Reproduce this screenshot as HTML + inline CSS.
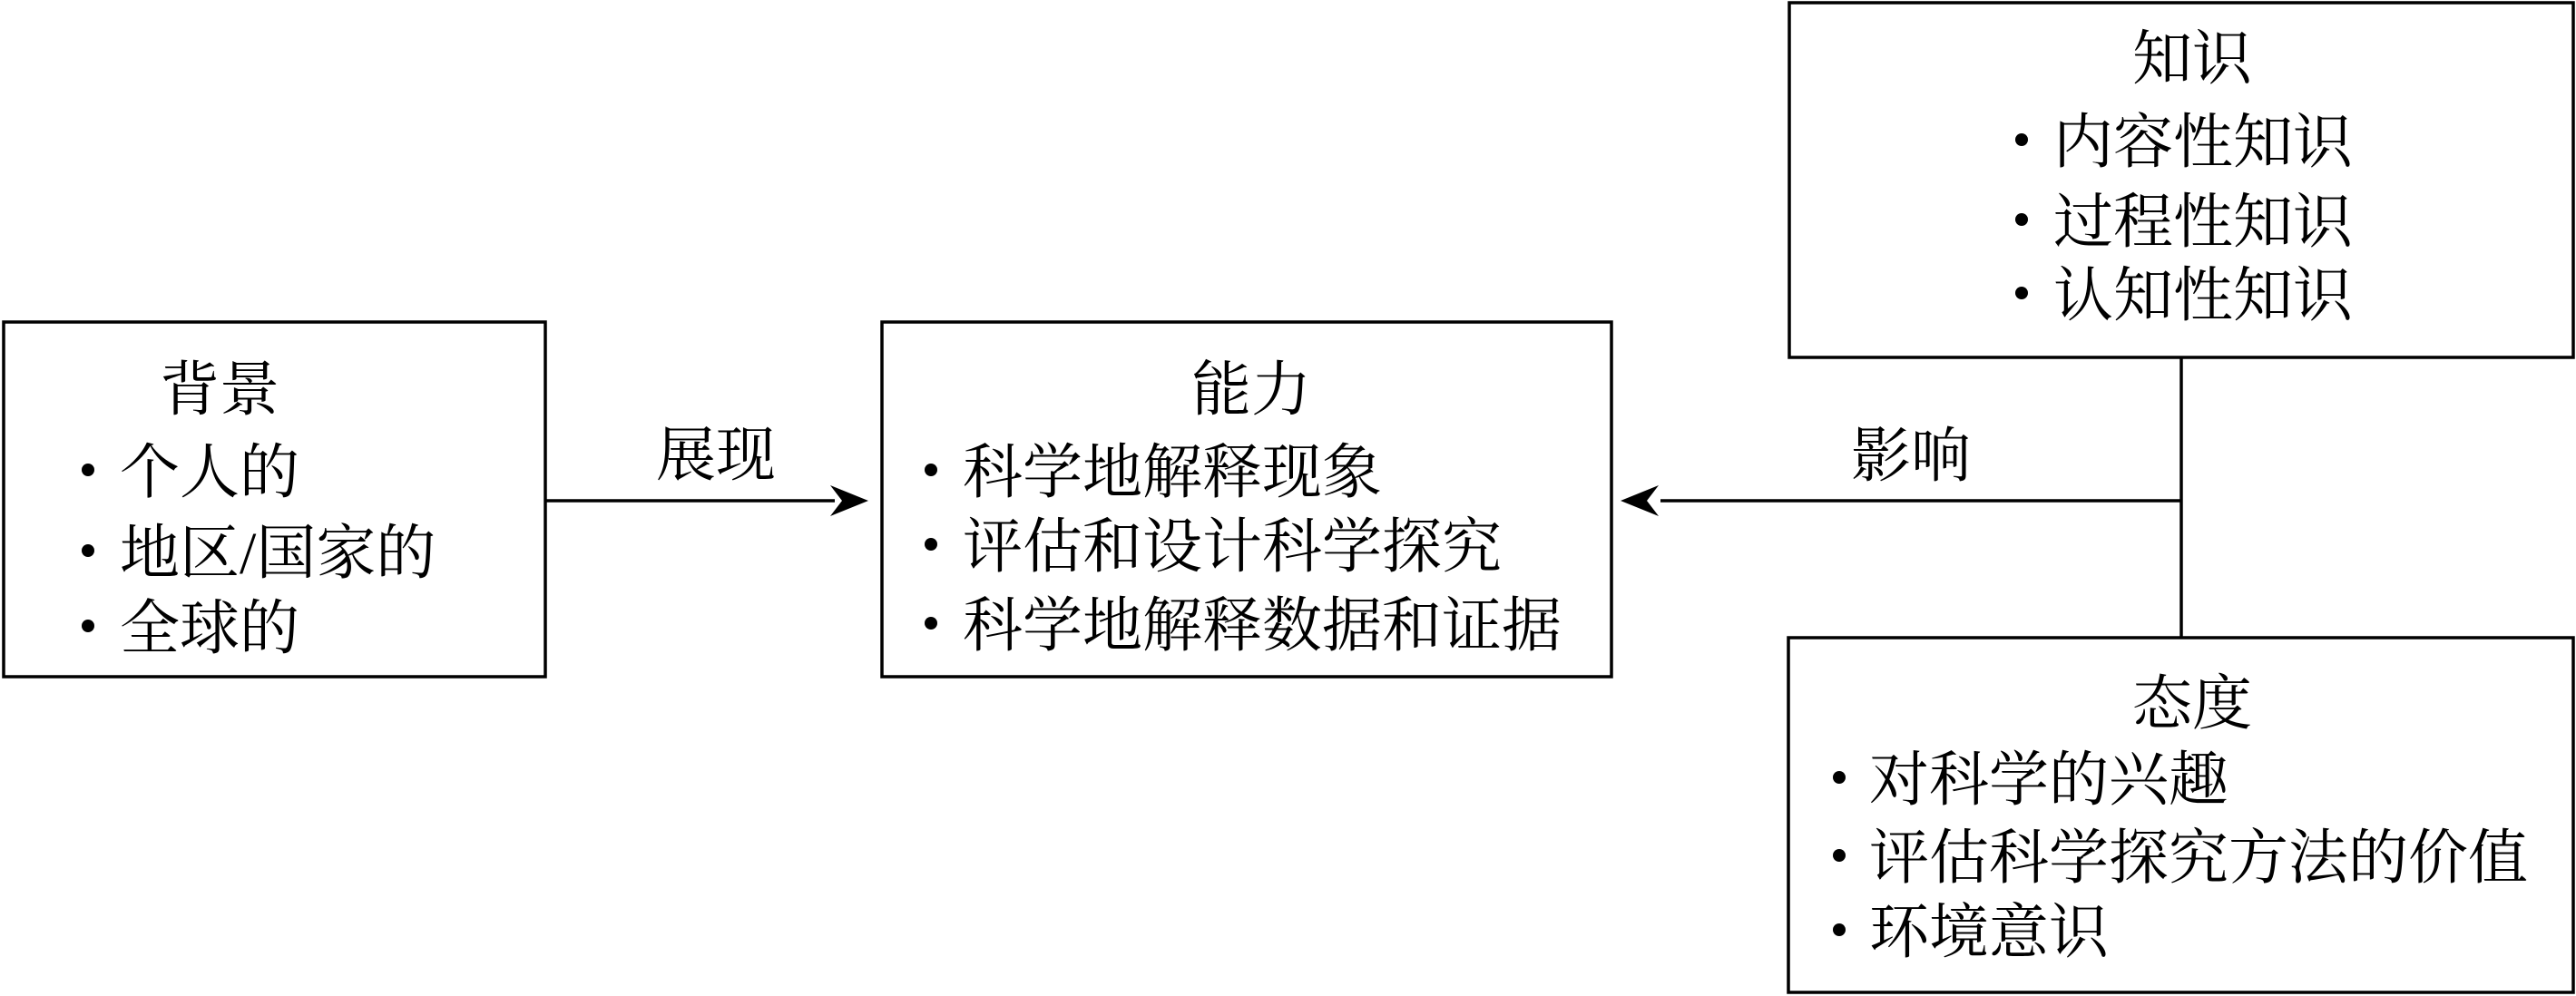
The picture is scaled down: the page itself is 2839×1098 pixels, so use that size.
<!DOCTYPE html>
<html><head><meta charset="utf-8"><style>
html,body{margin:0;padding:0;background:#fff;}
svg{display:block;}
text{font-family:"Liberation Serif","Noto Serif CJK SC","Noto Sans CJK SC",serif;font-size:66px;fill:#000;}
</style></head><body>
<svg width="2839" height="1098" viewBox="0 0 2839 1098" xmlns="http://www.w3.org/2000/svg">
<g fill="none" stroke="#000" stroke-width="3.5">
<rect x="4" y="355" width="597" height="391"/>
<rect x="972" y="355" width="804" height="391"/>
<rect x="1972" y="3" width="864" height="391"/>
<rect x="1971" y="703" width="865" height="391"/>
<line x1="2404" y1="394" x2="2404" y2="703"/>
<line x1="601" y1="552" x2="920" y2="552"/>
<line x1="2404" y1="552" x2="1830" y2="552"/>
</g>
<polygon points="957,552 915,535 928,552 915,569" fill="#000"/>
<polygon points="1786,552 1828,535 1815,552 1828,569" fill="#000"/>
<g fill="#000">
<circle cx="97" cy="518" r="7"/><circle cx="97" cy="607" r="7"/><circle cx="97" cy="690" r="7"/>
<circle cx="1026" cy="518" r="7"/><circle cx="1026" cy="600" r="7"/><circle cx="1026" cy="687" r="7"/>
<circle cx="2228" cy="154" r="7"/><circle cx="2228" cy="242" r="7"/><circle cx="2228" cy="323" r="7"/>
<circle cx="2027" cy="857" r="7"/><circle cx="2027" cy="943" r="7"/><circle cx="2027" cy="1025" r="7"/>
</g>
<text x="176" y="452">背景</text>
<text x="132" y="543">个人的</text>
<text x="132" y="632">地区/国家的</text>
<text x="132" y="715">全球的</text>
<text x="1313" y="452">能力</text>
<text x="1061" y="543">科学地解释现象</text>
<text x="1061" y="625">评估和设计科学探究</text>
<text x="1061" y="712">科学地解释数据和证据</text>
<text x="2350" y="87">知识</text>
<text x="2263" y="179">内容性知识</text>
<text x="2263" y="267">过程性知识</text>
<text x="2263" y="348">认知性知识</text>
<text x="2350" y="798">态度</text>
<text x="2060" y="882">对科学的兴趣</text>
<text x="2060" y="968">评估科学探究方法的价值</text>
<text x="2060" y="1050">环境意识</text>
<text x="723" y="524">展现</text>
<text x="2040" y="525">影响</text>
</svg>
</body></html>
